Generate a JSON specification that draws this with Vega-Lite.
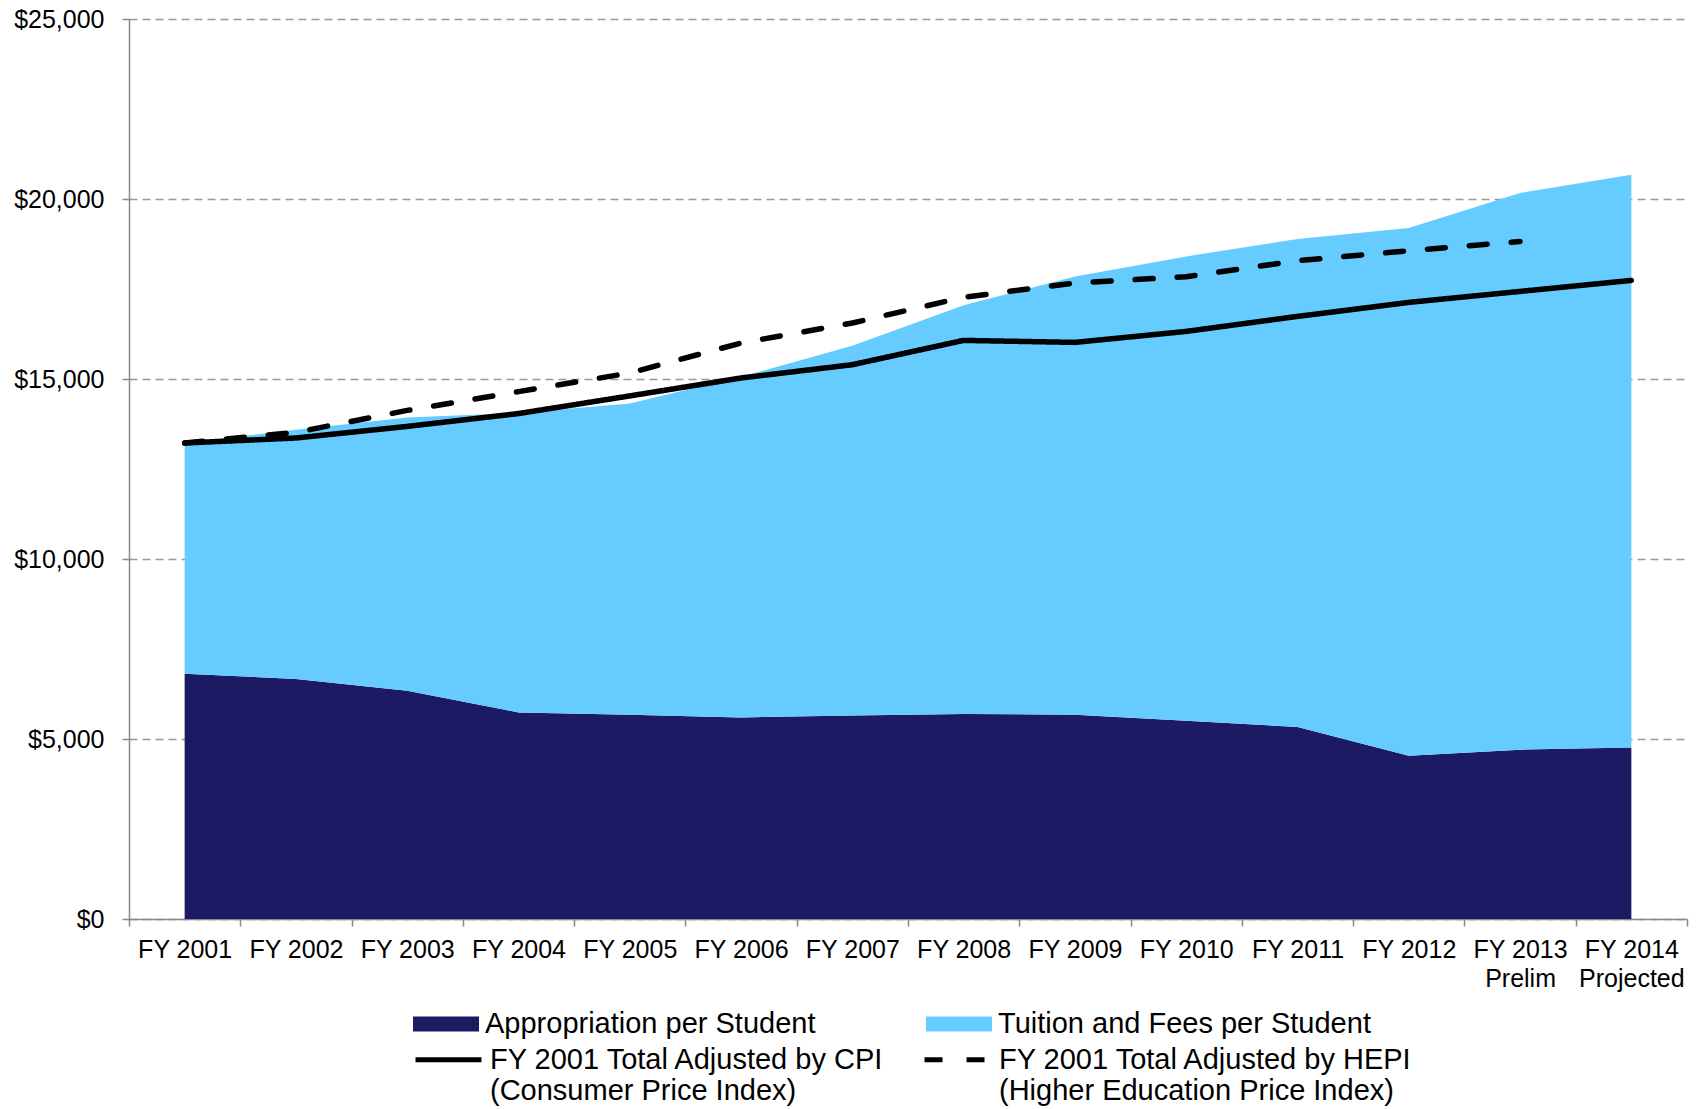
{
  "$schema": "https://vega.github.io/schema/vega-lite/v6.json",
  "width": 1558,
  "height": 900,
  "autosize": {"type": "none"},
  "padding": {"left": 129, "top": 19, "right": 15, "bottom": 190},
  "background": "white",
  "config": {
    "font": "Liberation Sans",
    "view": {"stroke": null},
    "legend": {"padding": 0, "labelFont": "Liberation Sans", "labelColor": "black"}
  },
  "data": {
    "values": [
      {"year": "FY 2001", "appropriation": 6814, "tuition": 6408, "cpi": 13222, "hepi": 13222},
      {"year": "FY 2002", "appropriation": 6667, "tuition": 6923, "cpi": 13361, "hepi": 13518},
      {"year": "FY 2003", "appropriation": 6342, "tuition": 7591, "cpi": 13683, "hepi": 14128},
      {"year": "FY 2004", "appropriation": 5739, "tuition": 8317, "cpi": 14040, "hepi": 14650},
      {"year": "FY 2005", "appropriation": 5675, "tuition": 8645, "cpi": 14530, "hepi": 15167},
      {"year": "FY 2006", "appropriation": 5600, "tuition": 9460, "cpi": 15028, "hepi": 16000},
      {"year": "FY 2007", "appropriation": 5656, "tuition": 10269, "cpi": 15397, "hepi": 16556},
      {"year": "FY 2008", "appropriation": 5694, "tuition": 11356, "cpi": 16072, "hepi": 17270},
      {"year": "FY 2009", "appropriation": 5675, "tuition": 12175, "cpi": 16017, "hepi": 17667},
      {"year": "FY 2010", "appropriation": 5508, "tuition": 12898, "cpi": 16322, "hepi": 17842},
      {"year": "FY 2011", "appropriation": 5333, "tuition": 13556, "cpi": 16739, "hepi": 18286},
      {"year": "FY 2012", "appropriation": 4536, "tuition": 14658, "cpi": 17128, "hepi": 18564},
      {"year": "FY 2013 Prelim", "appropriation": 4703, "tuition": 15464, "cpi": 17433, "hepi": 18822},
      {"year": "FY 2014 Projected", "appropriation": 4767, "tuition": 15908, "cpi": 17739, "hepi": null}
    ]
  },
  "layer": [
    {
      "transform": [{"fold": ["appropriation", "tuition"], "as": ["series", "value"]}],
      "mark": {"type": "area", "interpolate": "linear"},
      "encoding": {
        "x": {
          "field": "year", "type": "nominal", "sort": null, "bandPosition": 0.5,
          "scale": {"type": "band", "paddingInner": 0, "paddingOuter": 0},
          "axis": {
            "title": null, "tickBand": "extent", "labelAngle": 0,
            "domainColor": "#888888", "domainWidth": 1.5, "tickColor": "#888888", "tickWidth": 1.5, "tickSize": 7,
            "labelFontSize": 25, "labelColor": "black", "labelPadding": 11, "labelLineHeight": 29,
            "labelBaseline": "top",
            "labelExpr": "datum.label == 'FY 2013 Prelim' ? ['FY 2013', 'Prelim'] : datum.label == 'FY 2014 Projected' ? ['FY 2014', 'Projected'] : datum.label"
          }
        },
        "y": {
          "field": "value", "type": "quantitative", "stack": "zero",
          "scale": {"domain": [0, 25000], "nice": false},
          "axis": {
            "title": null, "values": [0, 5000, 10000, 15000, 20000, 25000], "format": "$,.0f",
            "grid": true, "gridColor": "#999999", "gridDash": [8, 5], "gridWidth": 1.5,
            "domainColor": "#888888", "domainWidth": 1.5, "tickColor": "#888888", "tickWidth": 1.5, "tickSize": 7,
            "labelFontSize": 25, "labelColor": "black", "labelPadding": 18
          }
        },
        "order": {"field": "series", "sort": "ascending"},
        "fill": {
          "field": "series", "type": "nominal",
          "scale": {"domain": ["appropriation", "tuition"], "range": ["#1B1A63", "#66CCFF"]},
          "legend": {
            "title": null, "orient": "none", "legendX": 284, "legendY": 972,
            "direction": "horizontal", "columns": 2, "columnPadding": 110,
            "symbolType": "M-1,-0.227H1V0.227H-1Z", "symbolSize": 4356, "symbolStrokeWidth": 0,
            "labelFontSize": 29, "labelOffset": 6, "labelLimit": 1000,
            "labelExpr": "datum.label == 'appropriation' ? 'Appropriation per Student' : 'Tuition and Fees per Student'"
          }
        }
      }
    },
    {
      "transform": [{"fold": ["cpi", "hepi"], "as": ["index", "total"]}],
      "mark": {"type": "line", "color": "black", "strokeWidth": 5.5, "strokeCap": "round", "strokeJoin": "round"},
      "encoding": {
        "x": {"field": "year", "type": "nominal", "sort": null, "bandPosition": 0.5},
        "y": {"field": "total", "type": "quantitative"},
        "strokeDash": {
          "field": "index", "type": "nominal",
          "scale": {"domain": ["cpi", "hepi"], "range": [[1, 0], [18, 24]]},
          "legend": {
            "title": null, "orient": "none", "legendX": 284, "legendY": 1005,
            "direction": "horizontal", "columns": 2, "columnPadding": 29,
            "symbolType": "stroke", "symbolSize": 4356, "symbolStrokeWidth": 5, "symbolStrokeColor": "black",
            "labelFontSize": 29, "labelOffset": 6, "labelLimit": 1000, "labelBaseline": "middle",
            "labelExpr": "datum.label == 'cpi' ? ['FY 2001 Total Adjusted by CPI', '(Consumer Price Index)'] : ['FY 2001 Total Adjusted by HEPI', '(Higher Education Price Index)']"
          }
        }
      }
    }
  ]
}
